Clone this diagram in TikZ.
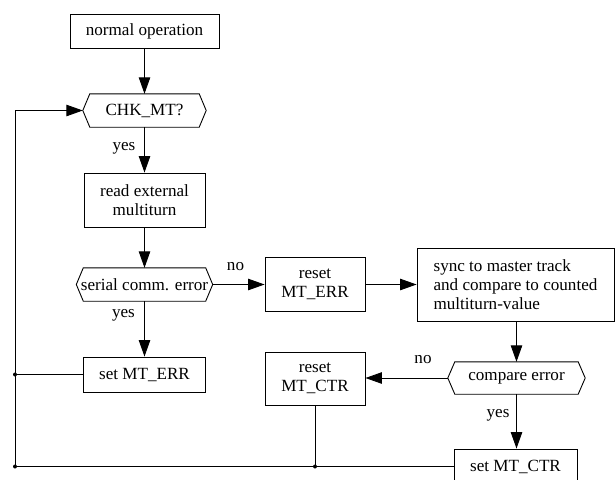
\documentclass[tikz,border=0pt]{standalone}
\usepackage{fontspec}
\setmainfont{Liberation Serif}
\usetikzlibrary{arrows.meta}
\tikzset{
  box/.style={draw, line width=0.9pt, inner sep=0pt, align=center, font=\fontsize{17.1}{19.2}\selectfont},
  hexbox/.style={inner sep=0pt, align=center, font=\fontsize{17.1}{19.2}\selectfont},
  hexline/.style={line width=0.9pt},
  conn/.style={line width=0.9pt},
  arr/.style={conn, -{Triangle[length=16.5pt,width=11.5pt]}},
  lbl/.style={inner sep=0pt, font=\fontsize{17.1}{19.2}\selectfont},
  dot/.style={circle, fill, inner sep=0pt, minimum size=4pt}
}
\newcommand{\hexdraw}[1]{%
  \draw[hexline] (#1.west) -- ([xshift=7pt]#1.north west) -- ([xshift=-7pt]#1.north east) -- (#1.east) -- ([xshift=-7pt]#1.south east) -- ([xshift=7pt]#1.south west) -- cycle;}
\begin{document}
\begin{tikzpicture}[x=1pt,y=-1pt]
\useasboundingbox (0,0) rectangle (615,479);
\clip (0,0) rectangle (615,479);
% nodes
\node[box, minimum width=149pt, minimum height=34pt] (norm) at (144.5,31) {normal operation};
\node[hexbox, minimum width=123pt, minimum height=33pt] (chk) at (144.5,110.5) {CHK\_MT?};
\hexdraw{chk}
\node[box, minimum width=121pt, minimum height=54pt] (read) at (144.5,200) {read external\\multiturn};
\node[hexbox, minimum width=136pt, minimum height=33pt] (ser) at (144.5,284.5) {serial comm. error};
\hexdraw{ser}
\node[box, minimum width=122pt, minimum height=35pt] (seterr) at (144.5,374.5) {set MT\_ERR};
\node[box, minimum width=100pt, minimum height=54pt] (rerr) at (315,284.5) {reset\\MT\_ERR};
\node[box, minimum width=197pt, minimum height=73pt, align=left] (sync) at (515.5,284.5) {sync to master track\\and compare to counted\\multiturn-value};
\node[hexbox, minimum width=137pt, minimum height=32pt] (cmp) at (516.5,378) {compare error};
\hexdraw{cmp}
\node[box, minimum width=100pt, minimum height=53pt] (rctr) at (315,378.5) {reset\\MT\_CTR};
\node[box, minimum width=123pt, minimum height=35pt] (setctr) at (515.5,466.5) {set MT\_CTR};
% junctions
\coordinate (jtop) at (15,110.5);
\node[dot] (j1) at (15,374.5) {};
\node[dot] (j2) at (15,466.5) {};
\node[dot] (j3) at (315,466.5) {};
% connectors
\draw[arr] (norm.south) -- (chk.north);
\draw[arr] (chk.south) -- (read.north);
\draw[arr] (read.south) -- (ser.north);
\draw[arr] (ser.south) -- (seterr.north);
\draw[arr] (ser.east) -- (rerr.west);
\draw[arr] (rerr.east) -- (sync.west);
\draw[arr] (sync.south -| cmp.north) -- (cmp.north);
\draw[arr] (cmp.west) -- (rctr.east |- cmp.west);
\draw[arr] (cmp.south) -- (setctr.north -| cmp.south);
\draw[conn] (seterr.west) -- (j1.center);
\draw[conn] (rctr.south) -- (j3.center);
\draw[conn] (setctr.west) -- (j2.center) -- (jtop);
\draw[arr] (jtop) -- (chk.west);
% labels
\node[lbl] (y1) at (124,148) {yes};
\node[lbl] (y2) at (123.5,315) {yes};
\node[lbl] (n1) at (235.5,267) {no};
\node[lbl] (n2) at (423,360) {no};
\node[lbl] (y3) at (498,415) {yes};
\end{tikzpicture}
\end{document}
